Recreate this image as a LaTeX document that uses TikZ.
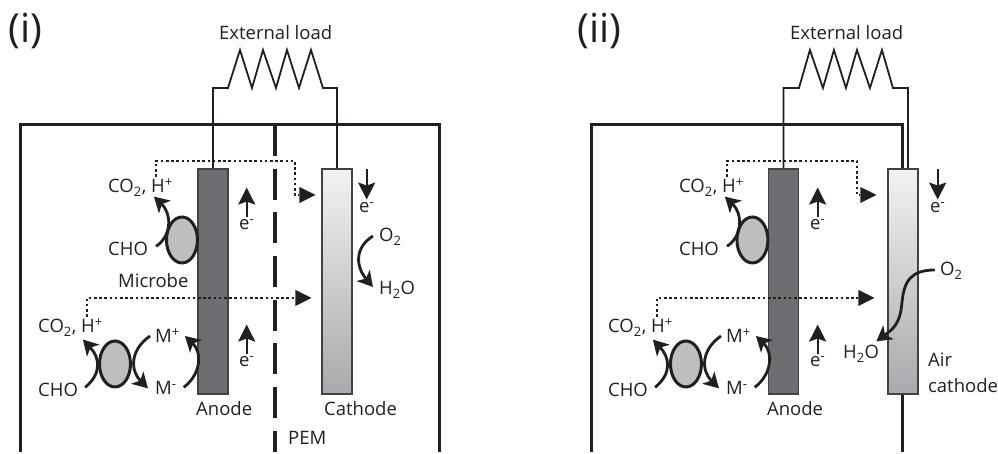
\documentclass[tikz,border=0pt]{standalone}
\usepackage{fontspec}
\setmainfont{Open Sans}
\usepackage{xcolor}
\usetikzlibrary{arrows.meta,positioning,shapes.geometric}
\definecolor{ink}{HTML}{231F20}
\definecolor{anodegray}{HTML}{6D6E71}
\definecolor{microbegray}{HTML}{BCBEC0}
\definecolor{cathodetop}{HTML}{F1F2F2}
\definecolor{cathodebot}{HTML}{A7A9AC}
\begin{document}
\begin{tikzpicture}[
  x=1pt, y=-1pt,
  font=\fontsize{18.5}{26}\selectfont,
  lab/.style={anchor=base west, inner sep=0pt, text=ink},
  panel/.style={anchor=base west, inner sep=0pt, text=ink, font=\fontsize{40}{46}\selectfont},
  cell/.style={draw=ink, line width=3pt},
  wire/.style={draw=ink, line width=1.8pt, line join=miter},
  pem/.style={draw=ink, line width=4pt, dash pattern=on 31pt off 12.7pt},
  anodebar/.style={rectangle, draw=ink!85, line width=1.5pt, fill=anodegray,
                   minimum width=30pt, minimum height=225pt, inner sep=0pt},
  cathodebar/.style={rectangle, draw=ink!85, line width=1.5pt, top color=cathodetop, bottom color=cathodebot,
                     minimum width=30pt, minimum height=225pt, inner sep=0pt},
  microbe/.style={ellipse, draw=ink, line width=3pt, fill=microbegray,
                  minimum width=31pt, minimum height=46pt, inner sep=0pt},
  arr/.style={draw=ink, line width=2.8pt, -{Stealth[length=15pt,width=17pt,inset=4pt]}},
  flux/.style={draw=ink, line width=2.2pt, -{Stealth[length=17pt,width=17pt,inset=3pt]}},
  proton/.style={draw=ink, line width=2.6pt, dash pattern=on 2.6pt off 2.6pt},
  protontip/.style={fill=ink, draw=none, isosceles triangle, isosceles triangle apex angle=53,
                    minimum height=16pt, minimum width=16pt, inner sep=0pt, anchor=apex}
]
% panel (i)
\node[panel] (tagA) at (8,43) {(i)};
\node[lab] (loadA) at (219,40) {External load};
\node[anodebar] (anodeA) at (213,281.5) {};
\node[cathodebar] (cathodeA) at (337,281.5) {};
\draw[cell] (21,452) |- (440,125) -- (440,452);
\draw[pem] (275,125) -- (275,452);
\draw[wire] (anodeA.north) |- (228,88) -- ++(12,-38) -- ++(12,38) -- ++(11,-38) -- ++(13,38)
  -- ++(11,-38) -- ++(12,38) -- ++(12,-38) -- ++(12,38) -| (cathodeA.north);
\node[microbe] (bugAa) at (182,240) {};
\node[microbe] (bugAb) at (115,364) {};
\node[lab] (prodAa) at (108,193) {CO\textsubscript{2}, H\textsuperscript{+}};
\node[lab] (choAa) at (108,256) {CHO};
\node[lab] (bugtext) at (118,288) {Microbe};
\node[lab] (prodAb) at (38,333) {CO\textsubscript{2}, H\textsuperscript{+}};
\node[lab] (choAb) at (38,397) {CHO};
\node[lab] (mplusA) at (155,343) {M\textsuperscript{+}};
\node[lab] (mminusA) at (155,395) {M\textsuperscript{-}};
\node[lab] (eAa) at (239,230) {e\textsuperscript{-}};
\node[lab] (eAb) at (239,367) {e\textsuperscript{-}};
\node[lab] (eAc) at (359,213) {e\textsuperscript{-}};
\node[lab] (oxA) at (379,242) {O\textsubscript{2}};
\node[lab] (waterA) at (379,295) {H\textsubscript{2}O};
\node[lab] (anodetextA) at (196,416) {Anode};
\node[lab] (cathodetextA) at (324,416) {Cathode};
\node[lab] (pemtext) at (288,445) {PEM};
\node[protontip] (tipAa) at (316,195) {};
\node[protontip] (tipAb) at (312,298) {};
\draw[proton] ([xshift=-17pt,yshift=2pt]prodAa.north east) |- (295,161) |- (tipAa.west);
\draw[proton] ([xshift=-16pt,yshift=2pt]prodAb.north east) |- (tipAb.west);
\draw[flux] (eAa.north) ++(0,-3) -- ++(0,-29);
\draw[flux] (eAb.north) ++(0,-3) -- ++(0,-29);
\draw[flux] (cathodeA.north -| eAc.north) ++(0,1) -- ([yshift=3pt]eAc.north);
\draw[arr] (choAa.east) ++(8,-3) .. controls +(17,-12) and +(17,16) .. ([xshift=-19pt]prodAa.south east);
\draw[arr] (choAb.east) ++(7,-3) .. controls +(17,-14) and +(17,18) .. ([xshift=-20pt,yshift=-3pt]prodAb.south east);
\draw[arr] (mplusA.west) ++(-5,0) .. controls +(-20,14) and +(-18,-18) .. ([xshift=-7pt]mminusA.west);
\draw[arr] (mminusA.east) ++(7,-1) .. controls +(18,-14) and +(17,16) .. ([xshift=5pt]mplusA.east);
\draw[arr] (oxA.west) ++(-6,-1) .. controls +(-19,12) and +(-17,-20) .. ([xshift=-6pt,yshift=3pt]waterA.west);
% panel (ii)
\node[panel] (tagB) at (577,43) {(ii)};
\node[lab] (loadB) at (790,40) {External load};
\node[anodebar] (anodeB) at (783.5,281.5) {};
\node[cathodebar] (cathodeB) at (903,281.5) {};
\draw[cell] (592,452) |- (903,125) -- (cathodeB.north);
\draw[cell] (cathodeB.south) -- (903,452);
\draw[wire] (anodeB.north) |- (799,88) -- ++(11,-38) -- ++(13,38) -- ++(11,-38) -- ++(12,38)
  -- ++(11,-38) -- ++(13,38) -- ++(12,-38) -- ++(11,38) -| ([xshift=5pt]cathodeB.north);
\node[microbe] (bugBa) at (752.5,240) {};
\node[microbe] (bugBb) at (686,364) {};
\node[lab] (prodBa) at (679,193) {CO\textsubscript{2}, H\textsuperscript{+}};
\node[lab] (choBa) at (679,256) {CHO};
\node[lab] (prodBb) at (608,333) {CO\textsubscript{2}, H\textsuperscript{+}};
\node[lab] (choBb) at (608,397) {CHO};
\node[lab] (mplusB) at (726,343) {M\textsuperscript{+}};
\node[lab] (mminusB) at (726,395) {M\textsuperscript{-}};
\node[lab] (eBa) at (810,230) {e\textsuperscript{-}};
\node[lab] (eBb) at (810,367) {e\textsuperscript{-}};
\node[lab] (eBc) at (930,213) {e\textsuperscript{-}};
\node[lab] (oxB) at (940,276) {O\textsubscript{2}};
\node[lab] (waterB) at (843,359) {H\textsubscript{2}O};
\node[lab] (anodetextB) at (767,416) {Anode};
\node[lab, align=left, anchor=west] (cathodetextB) at (928,373) {Air\\cathode};
\node[protontip] (tipBa) at (877,195) {};
\node[protontip] (tipBb) at (875,298) {};
\draw[proton] ([xshift=-17pt,yshift=2pt]prodBa.north east) |- (857,161) |- (tipBa.west);
\draw[proton] ([xshift=-16pt,yshift=2pt]prodBb.north east) |- (tipBb.west);
\draw[flux] (eBa.north) ++(0,-3) -- ++(0,-29);
\draw[flux] (eBb.north) ++(0,-3) -- ++(0,-29);
\draw[flux] (cathodeB.north -| eBc.north) ++(0,1) -- ([yshift=3pt]eBc.north);
\draw[arr] (choBa.east) ++(8,-3) .. controls +(17,-12) and +(17,16) .. ([xshift=-19pt]prodBa.south east);
\draw[arr] (choBb.east) ++(7,-3) .. controls +(17,-14) and +(17,18) .. ([xshift=-20pt,yshift=-3pt]prodBb.south east);
\draw[arr] (mplusB.west) ++(-5,0) .. controls +(-20,14) and +(-18,-18) .. ([xshift=-7pt]mminusB.west);
\draw[arr] (mminusB.east) ++(7,-1) .. controls +(18,-14) and +(17,16) .. ([xshift=5pt]mplusB.east);
\coordinate (bendB) at (902,303);
\draw[arr] (oxB.west) ++(-5,-1) .. controls +(-24,0) and +(2,-22) .. (bendB) .. controls +(-2,22) and +(16,-12) .. ([xshift=-3pt,yshift=4pt]waterB.north east);
\useasboundingbox (0,0) rectangle (998,452);
\end{tikzpicture}
\end{document}
